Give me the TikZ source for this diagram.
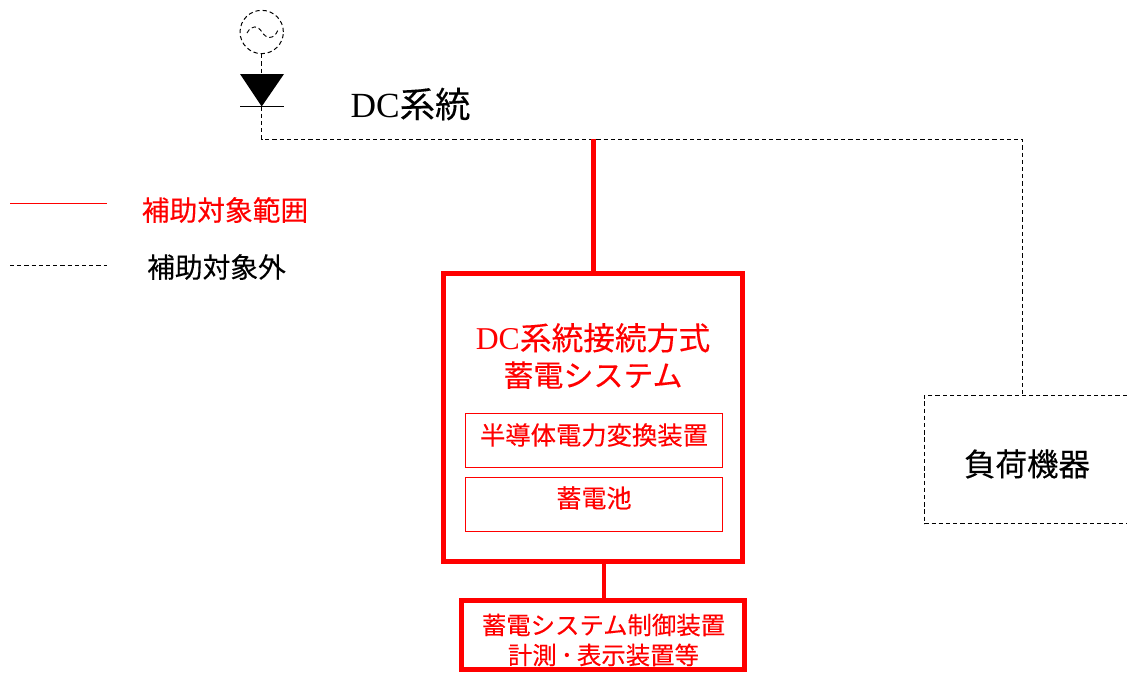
\documentclass[tikz,border=0pt]{standalone}
\usepackage{fontspec}
\usepackage{xcolor}
\setmainfont{Liberation Serif}
\newfontfamily\jpfont[FakeBold=0.25]{Noto Sans CJK JP}
\usetikzlibrary{positioning}
\definecolor{scopered}{RGB}{255,0,0}
\tikzset{
    outscope/.style = {draw = black, line width = 0.75pt, dash pattern = on 3.2pt off 2.2pt},
    inscope/.style = {draw = scopered, line width = 3.75pt},
    thickbox/.style = {inscope, rectangle, inner sep = 0pt, text = scopered, align = center},
    thinbox/.style = {draw = scopered, line width = 0.7pt, rectangle, inner sep = 0pt, text = scopered, align = center},
    label/.style = {inner sep = 0pt, align = center}
}
\begin{document}
\begin{tikzpicture}[x = 0.75pt, y = -0.75pt]
    \useasboundingbox (0,0) rectangle (1127,672);
    \clip (0,0) rectangle (1127,672);
    % source and diode
    \node[outscope, circle, minimum size = 32.5pt, inner sep = 0pt] (source) at (261.7,32) {};
    \draw[outscope, line width = 0.7pt] (247,33) .. controls (252,24) and (258,26) .. (262,32)
        .. controls (266,39) and (274,40) .. (278,30);
    \coordinate (diodeleft) at (240,74);
    \coordinate (dioderight) at (284,74);
    \coordinate (diodetip) at (261.7,106.5);
    \coordinate (barleft) at (240,106.5);
    \coordinate (barright) at (284,106.5);
    \fill (diodeleft) -- (dioderight) -- (diodetip) -- cycle;
    \draw[line width = 0.75pt] (barleft) -- (barright);
    \coordinate (busleft) at (261.7,139);
    \coordinate (busright) at (1022,139);
    \coordinate (buslink) at (593,139);
    \coordinate (ctrllink) at (604,562);
    % boxes
    \node[thickbox, minimum width = 224.6pt, minimum height = 216pt] (storage) at (593.2,417.5) {};
    \node[thinbox, minimum width = 192.75pt, minimum height = 40.5pt] (converter) at (593.5,440) {};
    \node[font = \jpfont\fontsize{19pt}{22pt}\selectfont, text = scopered, label] (convertertext) at (594,435) {半導体電力変換装置};
    \node[thinbox, minimum width = 192.75pt, minimum height = 40.5pt] (battery) at (593.5,504) {};
    \node[font = \jpfont\fontsize{18.8pt}{22pt}\selectfont, text = scopered, label] (batterytext) at (594,498) {蓄電池};
    \node[text = scopered, label, font = \fontsize{23.8pt}{27.5pt}\selectfont] (storagetext) at (593,356) {DC{\jpfont 系統接続方式}\\{\jpfont\fontsize{22.5pt}{27.5pt}\selectfont 蓄電システム}};
    \node[thickbox, minimum width = 212.25pt, minimum height = 51.75pt] (controller) at (603,635) {};
    \node[text = scopered, label, font = \jpfont\fontsize{18.3pt}{22.5pt}\selectfont] (controllertext) at (603.5,640) {蓄電システム制御装置\\計測\hspace{3pt}･\hspace{3pt}表示装置等};
    \node[outscope, rectangle, inner sep = 0pt, minimum width = 160pt, minimum height = 96.5pt] (load) at (1031,459.5) {};
    \node[label, font = \jpfont\fontsize{23.6pt}{27pt}\selectfont] (loadtext) at (1027,464) {負荷機器};
    \node[label, font = \fontsize{26.5pt}{30pt}\selectfont] (dctext) at (410.5,104) {DC{\jpfont 系統}};
    % connectors
    \draw[outscope] (source.south) -- (diodeleft -| source.south);
    \draw[outscope] (diodetip) -- (busleft) -- (busright) -- (load.north -| busright);
    \draw[inscope] (buslink) -- (storage.north -| buslink);
    \draw[inscope, line width = 3pt] (ctrllink) -- (controller.north -| ctrllink);
    % legend
    \coordinate (legendinstart) at (10,203);
    \coordinate (legendinend) at (107,203);
    \coordinate (legendoutstart) at (10,265);
    \coordinate (legendoutend) at (107,265);
    \draw[scopered, line width = 0.75pt] (legendinstart) -- (legendinend);
    \draw[outscope] (legendoutstart) -- (legendoutend);
    \node[label, text = scopered, font = \jpfont\fontsize{20.8pt}{24pt}\selectfont] (legendintext) at (225,210) {補助対象範囲};
    \node[label, font = \jpfont\fontsize{20.8pt}{24pt}\selectfont] (legendouttext) at (216.5,267) {補助対象外};
\end{tikzpicture}
\end{document}
